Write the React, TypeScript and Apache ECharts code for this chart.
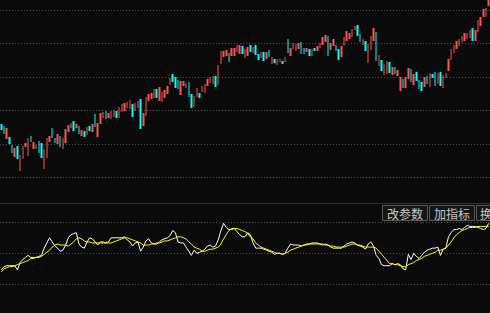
import React, { useEffect, useRef } from "react";
import * as echarts from "echarts";

// Daily candles (open / close)
const opens = [
  8.7, 8.5, 7.2, 7.4, 6.6, 5.4, 6.5, 4.0, 5.2, 6.4,
  5.5, 7.5, 6.2, 6.2, 7.0, 6.8, 4.2, 5.3, 6.9, 8.3,
  7.3, 6.7, 7.5, 6.2, 6.8, 7.9, 8.3, 9.0, 8.3, 8.5,
  7.5, 8.0, 7.6, 8.5, 7.9, 9.7, 7.4, 8.7, 9.3, 10.0,
  9.3, 9.2, 9.4, 10.0, 9.3, 9.9, 10.0, 10.3, 10.2, 10.7,
  10.0, 10.3, 11.2, 8.5, 9.5, 11.0, 11.2, 11.3, 12.2, 11.0,
  10.9, 11.3, 11.7, 12.6, 13.7, 13.4, 13.1, 11.6, 12.5, 12.3,
  12.9, 11.7, 10.4, 11.4, 11.8, 11.9, 11.8, 12.5, 12.8, 12.7,
  13.5, 12.6, 14.7, 15.4, 15.5, 15.8, 15.5, 15.5, 15.9, 15.7,
  16.5, 15.3, 15.5, 16.6, 15.8, 16.6, 15.7, 15.3, 15.9, 15.2,
  16.1, 14.7, 15.2, 14.6, 14.9, 15.0, 14.9, 17.2, 15.5, 16.2,
  16.0, 16.2, 16.9, 16.3, 15.9, 16.2, 15.5, 16.3, 16.0, 16.3,
  16.6, 16.9, 17.5, 16.1, 16.5, 16.6, 16.2, 15.4, 16.5, 17.0,
  17.2, 17.4, 18.1, 18.6, 17.7, 16.6, 17.0, 14.8, 16.1, 17.0,
  17.9, 14.5, 15.1, 13.6, 13.7, 14.9, 13.6, 14.4, 13.5, 12.0,
  13.2, 12.3, 13.2, 14.2, 12.6, 13.9, 13.1, 12.9, 12.4, 13.5,
  12.4, 13.7, 13.9, 12.7, 13.9, 12.3, 13.3, 14.0, 15.1, 15.8,
  16.2, 16.5, 16.9, 17.0, 17.2, 17.3, 18.3, 17.0, 17.9, 18.5,
  19.4, 19.4, 20.5,
];
const closes = [
  8.1, 7.7, 8.3, 6.7, 5.8, 6.3, 5.2, 5.6, 6.5, 6.8,
  7.3, 6.9, 6.9, 6.6, 5.8, 5.3, 6.2, 7.3, 7.5, 7.3,
  6.8, 7.7, 6.4, 7.3, 8.2, 8.6, 8.8, 8.0, 8.7, 7.7,
  8.1, 7.4, 8.4, 8.0, 8.7, 8.4, 8.8, 9.8, 9.9, 9.2,
  9.8, 10.0, 10.1, 9.3, 10.4, 10.7, 10.8, 10.9, 11.1, 9.4,
  10.8, 11.0, 8.2, 9.8, 11.4, 11.7, 11.8, 12.2, 11.3, 12.4,
  11.9, 12.1, 12.5, 13.3, 12.9, 12.3, 12.2, 13.0, 13.0, 12.8,
  11.4, 10.3, 11.5, 12.3, 11.3, 12.5, 12.7, 13.2, 13.4, 13.5,
  12.4, 14.6, 16.0, 16.0, 16.1, 14.9, 16.3, 16.3, 16.6, 16.6,
  15.7, 16.2, 16.4, 15.9, 16.4, 15.6, 15.1, 15.9, 15.0, 15.9,
  15.4, 15.4, 14.8, 15.2, 15.2, 14.7, 15.4, 15.8, 16.3, 16.8,
  16.7, 16.8, 15.7, 15.7, 16.3, 15.5, 16.2, 16.0, 16.5, 16.8,
  17.4, 17.6, 15.5, 16.8, 17.2, 16.0, 15.1, 16.5, 17.4, 18.0,
  17.8, 18.2, 18.5, 17.5, 16.9, 17.2, 16.0, 16.7, 17.5, 18.3,
  15.0, 15.6, 14.0, 14.7, 15.0, 13.8, 14.4, 13.7, 14.1, 13.4,
  12.3, 13.4, 14.3, 12.9, 13.7, 13.0, 12.2, 12.0, 13.4, 12.7,
  13.8, 13.3, 12.5, 13.8, 12.5, 13.6, 13.8, 15.2, 16.2, 16.6,
  17.0, 17.2, 17.5, 17.8, 17.8, 18.1, 17.0, 18.1, 19.1, 19.4,
  20.2, 20.3, 21.4,
];
// Indicator panel: fast line (white) and its average (yellow)
const indicatorLine = [
  34, 37, 38, 38, 38, 38, 34, 41, 44, 46,
  48, 46, 46, 46, 47, 48, 55, 60, 65, 61,
  57, 55, 52, 53, 58, 65, 68, 69, 70, 59,
  56, 55, 61, 65, 64, 61, 58, 61, 61, 60,
  61, 65, 65, 65, 65, 65, 66, 63, 61, 57,
  60, 61, 52, 56, 62, 64, 60, 59, 59, 61,
  63, 64, 65, 67, 72, 70, 61, 60, 60, 56,
  52, 48, 53, 50, 51, 52, 54, 57, 58, 56,
  57, 63, 72, 79, 75, 73, 73, 74, 71, 68,
  66, 66, 70, 68, 60, 55, 55, 55, 54, 53,
  52, 51, 49, 50, 50, 49, 50, 55, 59, 58,
  58, 58, 57, 58, 59, 59, 60, 60, 60, 59,
  58, 59, 58, 56, 55, 55, 55, 55, 57, 59,
  60, 61, 60, 58, 57, 56, 54, 59, 61, 57,
  48, 45, 39, 38, 38, 38, 40, 39, 40, 39,
  35, 34, 49, 44, 50, 47, 45, 48, 51, 53,
  54, 55, 55, 56, 48, 54, 55, 66, 70, 73,
  73, 74, 73, 75, 77, 76, 76, 76, 75, 74,
  73, 74, 79,
];
const indicatorAvg = [
  32, 35, 36, 37, 37, 38, 39, 40, 41, 42,
  43, 45, 45, 46, 46, 47, 49, 51, 53, 56,
  58, 59, 58, 58, 58, 57, 59, 61, 64, 65,
  64, 62, 61, 61, 60, 60, 60, 60, 60, 60,
  60, 60, 61, 62, 63, 64, 65, 65, 64, 63,
  62, 61, 60, 58, 58, 58, 59, 59, 60, 60,
  61, 62, 62, 63, 64, 65, 66, 66, 65, 64,
  61, 59, 56, 55, 54, 52, 52, 53, 54, 54,
  55, 56, 59, 64, 68, 72, 74, 74, 74, 73,
  72, 71, 69, 66, 64, 60, 58, 56, 55, 54,
  53, 52, 51, 50, 50, 49, 50, 51, 53, 54,
  55, 56, 57, 58, 58, 59, 59, 59, 59, 59,
  59, 58, 58, 57, 57, 56, 56, 56, 56, 57,
  58, 59, 59, 58, 58, 57, 56, 56, 56, 56,
  55, 52, 49, 46, 43, 40, 40, 39, 39, 38,
  37, 37, 39, 40, 41, 43, 44, 45, 47, 48,
  49, 50, 51, 53, 53, 54, 55, 58, 61, 65,
  68, 70, 72, 73, 74, 75, 75, 75, 76, 76,
  76, 76, 76,
];
const days = opens.map((_, i) => String(i + 1));
const priceMin = 3.35;
const priceMax = 20.1;
const priceStep = 3.35;
const indMin = 20;
const indMax = 80;
const indStep = 30;
const buttonLabels = ["改参数", "加指标", "换"];

const UP = "#ff5454";
const DOWN = "#00ffff";
const GRID_LINE = { color: "#505050", width: 1, type: [1, 2] as any };

export default function App() {
  const ref = useRef<HTMLDivElement>(null);
  useEffect(() => {
    if (!ref.current) return;
    const chart = echarts.init(ref.current, undefined, { renderer: "svg" });
    const candles = opens.map((o, i) => {
      const c = closes[i];
      return [o, c, Math.min(o, c), Math.max(o, c)];
    });
    const btnX = [382, 429, 476];
    chart.setOption({
      animation: false,
      backgroundColor: "#0a0a0a",
      grid: [
        { left: -1, right: 0, top: 10, height: 167.5 },
        { left: -1, right: 0, top: 222.3, height: 62 },
      ],
      xAxis: [
        { type: "category", gridIndex: 0, data: days, show: false, boundaryGap: true },
        { type: "category", gridIndex: 1, data: days, show: false, boundaryGap: true },
      ],
      yAxis: [
        {
          type: "value", gridIndex: 0, min: priceMin, max: priceMax, interval: priceStep,
          axisLine: { show: false }, axisTick: { show: false }, axisLabel: { show: false },
          splitLine: { show: true, lineStyle: GRID_LINE },
        },
        {
          type: "value", gridIndex: 1, min: indMin, max: indMax, interval: indStep,
          axisLine: { show: false }, axisTick: { show: false }, axisLabel: { show: false },
          splitLine: { show: true, lineStyle: GRID_LINE },
        },
      ],
      series: [
        {
          type: "candlestick",
          xAxisIndex: 0, yAxisIndex: 0,
          data: candles,
          barWidth: 2,
          clip: false,
          itemStyle: { color: UP, color0: DOWN, borderColor: UP, borderColor0: DOWN, borderWidth: 0 },
        },
        {
          type: "line", xAxisIndex: 1, yAxisIndex: 1, data: indicatorLine,
          symbol: "none", lineStyle: { color: "#ffffff", width: 1 },
        },
        {
          type: "line", xAxisIndex: 1, yAxisIndex: 1, data: indicatorAvg,
          symbol: "none", lineStyle: { color: "#ffff00", width: 1 },
        },
      ],
      graphic: [
        { type: "rect", shape: { x: 0, y: 203, width: 490, height: 1 }, style: { fill: "#333333" } },
        ...buttonLabels.map((label, i) => ({
          type: "group",
          children: [
            {
              type: "rect",
              shape: { x: btnX[i] + 0.5, y: 205.5, width: 45, height: 15 },
              style: { fill: "#151515", stroke: "#5a5a5a", lineWidth: 1 },
            },
            {
              type: "text",
              x: i === 2 ? btnX[i] + 4 : btnX[i] + 23,
              y: 213.5,
              style: {
                text: label,
                fill: "#c8c8c8",
                font: '12px "Noto Sans CJK SC"',
                textAlign: i === 2 ? "left" : "center",
                textVerticalAlign: "middle",
              },
            },
          ],
        })),
      ],
    });
    return () => chart.dispose();
  }, []);
  return (
    <div
      ref={ref}
      style={{ position: "absolute", left: 0, top: 0, width: 490, height: 313 }}
    />
  );
}
